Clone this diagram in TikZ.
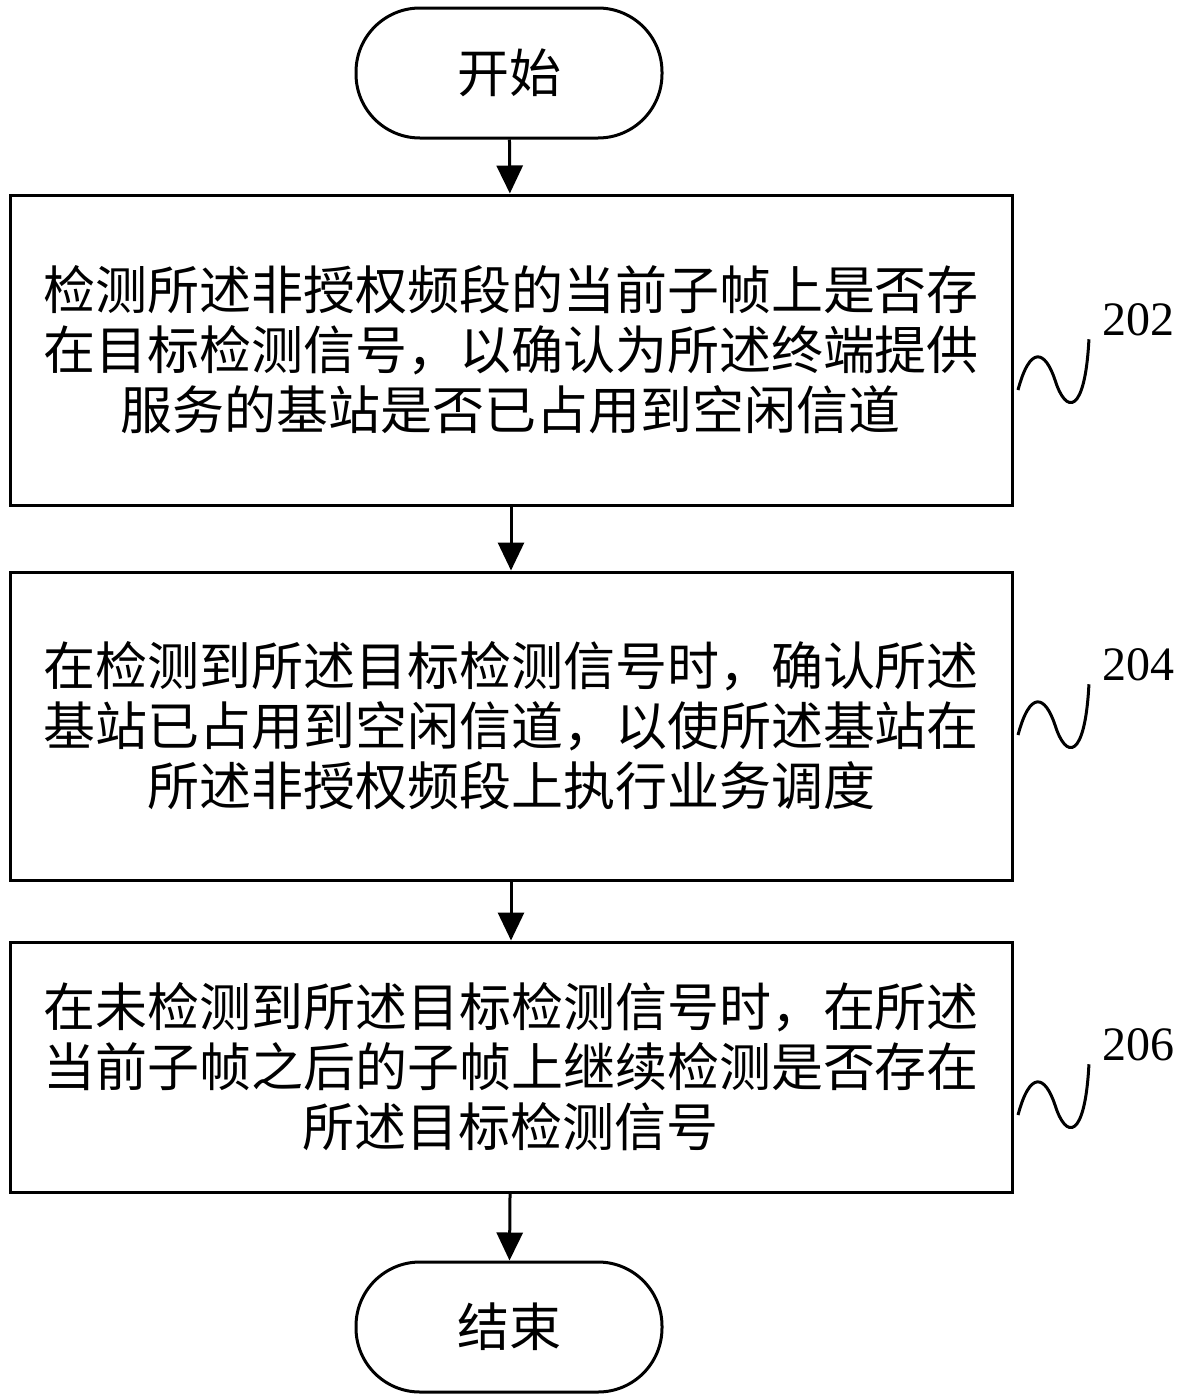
\documentclass[tikz,border=0pt]{standalone}
\usepackage{fontspec}
\setmainfont{Liberation Serif}
\newfontfamily\cjk{Noto Sans CJK SC}
\usetikzlibrary{positioning, arrows.meta}

\begin{document}
\begin{tikzpicture}[x=0.5pt, y=-0.5pt, font=\cjk\fontsize{26}{30}\selectfont,
  box/.style={draw, line width=1.5pt, minimum width=501pt, minimum height=155pt, align=center, inner sep=0pt},
  term/.style={draw, line width=1.5pt, rounded corners=32pt, minimum width=153pt, minimum height=65pt},
  arr/.style={-{Triangle[length=14pt, width=13pt]}, line width=1.5pt},
  num/.style={font=\fontsize{24}{28}\selectfont},
  wave/.style={line width=1.5pt}]
  \useasboundingbox (0,0) rectangle (1180,1398);

  \node[term] (start) at (509,73) {开始};
  \node[box] (s202) at (511,350) {检测所述非授权频段的当前子帧上是否存\\在目标检测信号，以确认为所述终端提供\\服务的基站是否已占用到空闲信道};
  \node[box, minimum height=154pt] (s204) at (511,726) {在检测到所述目标检测信号时，确认所述\\基站已占用到空闲信道，以使所述基站在\\所述非授权频段上执行业务调度};
  \node[box, minimum height=125pt] (s206) at (511,1067) {在未检测到所述目标检测信号时，在所述\\当前子帧之后的子帧上继续检测是否存在\\所述目标检测信号};
  \node[term] (stop) at (509,1327) {结束};

  \draw[arr] (start) -- (s202);
  \draw[arr] (s202) -- (s204);
  \draw[arr] (s204) -- (s206);
  \draw[arr] (s206) -- (stop);

  % step labels with wavy leaders
  \foreach \n/\y in {202/320, 204/665, 206/1045} {
    \node[num] (l\n) at (1138,\y) {\n};
    \coordinate (w\n) at (1018,\y+70);
    \draw[wave] (w\n) .. controls (1030,\y+25) and (1045,\y+30) .. (1055,\y+60)
      .. controls (1066,\y+95) and (1085,\y+95) .. ([xshift=-3pt,yshift=2pt]l\n.south west);
  }
\end{tikzpicture}
\end{document}
